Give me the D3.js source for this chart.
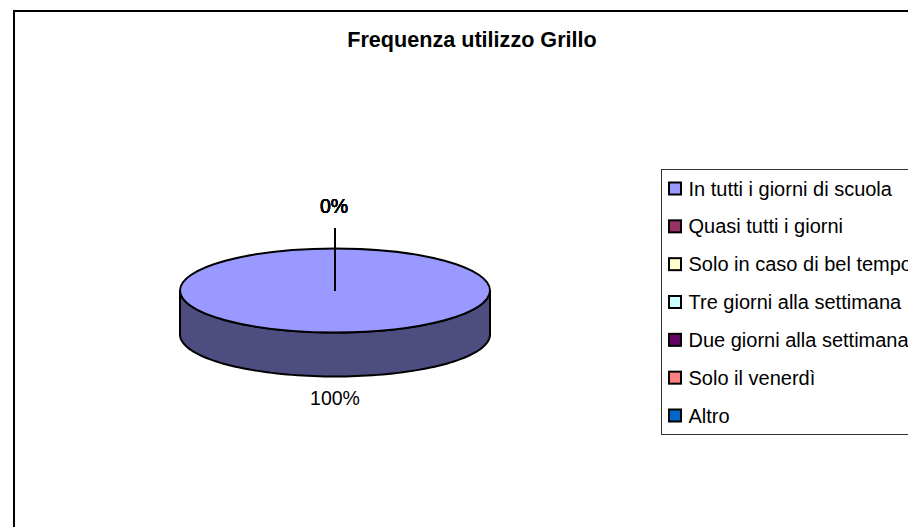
<!DOCTYPE html>
<html><head><meta charset="utf-8">
<script src="https://cdn.jsdelivr.net/npm/d3@7/dist/d3.min.js"></script>
<style>html,body{margin:0;padding:0;background:#fff;overflow:hidden}svg{display:block}text{font-family:"Liberation Sans",Arial,sans-serif;fill:#000}</style>
</head><body><svg id="c" width="908" height="527"></svg>
<script>
const title = "Frequenza utilizzo Grillo";
const categories = ["In tutti i giorni di scuola","Quasi tutti i giorni","Solo in caso di bel tempo","Tre giorni alla settimana","Due giorni alla settimana","Solo il venerdì","Altro"];
const values = [100,0,0,0,0,0,0];
const colors = ["#9999ff","#993366","#ffffcc","#ccffff","#660066","#ff8080","#0066cc"];
const sideColor = "#4d4d80";

const svg = d3.select("#c");
const cx=335, cy=290.5, rx=155, ry=42, depth=44;
svg.append("rect").attr("x",14).attr("y",11).attr("width",1000).attr("height",1000).attr("fill","#fff").attr("stroke","#000").attr("stroke-width",2);
svg.append("text").attr("x",472).attr("y",47).attr("text-anchor","middle").attr("font-size",21.6).attr("font-weight","bold").text(title);

const total=d3.sum(values);
const arcs=d3.pie().sort(null).value(d=>d)(values);
const px=a=>cx+rx*Math.sin(a), py=a=>cy-ry*Math.cos(a);

// side wall: visible front half of the rim
const frontAngles=d3.range(Math.PI/2,3*Math.PI/2+0.001,Math.PI/90);
svg.append("path").attr("fill",sideColor).attr("stroke","#000").attr("stroke-width",2)
 .attr("d",d3.area().x(a=>px(a)).y0(a=>py(a)).y1(a=>py(a)+depth)(frontAngles));

// top faces
const arcGen=d3.arc().innerRadius(0).outerRadius(rx);
svg.append("g").attr("transform",`translate(${cx},${cy}) scale(1,${ry/rx})`)
 .selectAll("path").data(arcs.filter(d=>d.value>0)).join("path")
 .attr("d",arcGen).attr("fill",(d)=>colors[d.index]).attr("stroke","#000").attr("stroke-width",2).attr("vector-effect","non-scaling-stroke");

// leader lines and labels for every slice
arcs.forEach(d=>{
 const m=(d.startAngle+d.endAngle)/2;
 const pct=d3.format(".0%")(d.value/total);
 if(d.value===0){
  svg.append("line").attr("x1",cx).attr("y1",cy).attr("x2",px(m)).attr("y2",py(m)-20.5).attr("stroke","#000").attr("stroke-width",2);
  svg.append("text").attr("x",px(m)-1).attr("y",py(m)-35.5).attr("text-anchor","middle").attr("font-size",19.5).text(pct);
 } else {
  svg.append("text").attr("x",px(m)).attr("y",py(m)+depth+28.5).attr("text-anchor","middle").attr("font-size",19.5).attr("fill","#111").text(pct);
 }
});

// legend
const lg=svg.append("g");
lg.append("rect").attr("x",661.5).attr("y",169.5).attr("width",400).attr("height",265).attr("fill","#fff").attr("stroke","#333").attr("stroke-width",1);
const rowY=d3.scalePoint().domain(categories).range([189,416]);
categories.forEach((c,i)=>{
 lg.append("rect").attr("x",669).attr("y",rowY(c)-6.5).attr("width",12).attr("height",12).attr("fill",colors[i]).attr("stroke","#000").attr("stroke-width",2);
 lg.append("text").attr("x",688.5).attr("y",rowY(c)+6.5).attr("font-size",20).text(c);
});
</script></body></html>
